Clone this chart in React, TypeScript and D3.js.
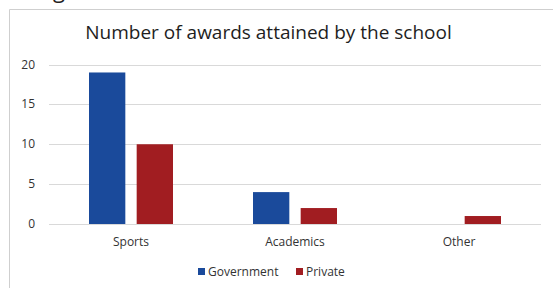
import React, { useEffect, useRef } from 'react'
import * as d3 from 'd3'

const categories = ['Sports', 'Academics', 'Other']
const seriesNames = ['Government', 'Private']
const government = [19, 4, 0]
const privateValues = [10, 2, 1]
const yTicks = [0, 5, 10, 15, 20]
const colors = ['#1a4a9b', '#a11d21']

const W = 553
const H = 288

export default function App() {
	const ref = useRef<SVGSVGElement>(null)

	useEffect(() => {
		const svg = d3.select(ref.current)
		svg.selectAll('*').remove()

		const margin = { left: 49, right: 12, top: 64.5, bottom: 64 }
		const plotBottom = 224

		// cut off caption text above the chart
		svg.append('text')
			.attr('x', 53)
			.attr('y', -2)
			.attr('font-family', 'Open Sans')
			.attr('font-size', 22)
			.attr('fill', '#222')
			.text('g')

		// frame of the chart area
		svg.append('path')
			.attr('d', `M9.5,${H} V9.5 H${W}`)
			.attr('fill', 'none')
			.attr('stroke', '#cfcfcf')
			.attr('stroke-width', 1)

		svg.append('text')
			.attr('x', 268.5)
			.attr('y', 39)
			.attr('text-anchor', 'middle')
			.attr('font-family', 'Open Sans')
			.attr('font-size', 19)
			.attr('fill', '#1e1e1e')
			.text('Number of awards attained by the school')

		const x = d3.scaleBand()
			.domain(categories)
			.range([margin.left, W - margin.right])

		const y = d3.scaleLinear()
			.domain([0, 20])
			.range([plotBottom, margin.top])

		const g = svg.append('g')

		g.selectAll('line.grid')
			.data(yTicks)
			.enter()
			.append('line')
			.attr('class', 'grid')
			.attr('x1', margin.left)
			.attr('x2', W - margin.right)
			.attr('y1', d => Math.round(y(d)) + 0.5)
			.attr('y2', d => Math.round(y(d)) + 0.5)
			.attr('stroke', '#d9d9d9')
			.attr('stroke-width', 1)

		g.selectAll('text.ytick')
			.data(yTicks)
			.enter()
			.append('text')
			.attr('class', 'ytick')
			.attr('x', 35)
			.attr('y', d => y(d) + 4)
			.attr('text-anchor', 'end')
			.attr('font-family', 'Open Sans')
			.attr('font-size', 12)
			.attr('fill', '#333')
			.text(d => d)

		const bw = x.bandwidth()
		const barW = 37
		const gap = 10
		const inner = d3.scaleBand()
			.domain(seriesNames)
			.range([bw / 2 - barW - gap / 2, bw / 2 + barW + gap / 2])
			.paddingInner(gap / (barW * 2 + gap) * 2)

		const series = [government, privateValues]
		series.forEach((vals, si) => {
			g.selectAll(`rect.s${si}`)
				.data(vals)
				.enter()
				.append('rect')
				.attr('class', `s${si}`)
				.attr('x', (d, i) => (x(categories[i]) as number) + (inner(seriesNames[si]) as number))
				.attr('width', inner.bandwidth())
				.attr('y', d => y(d))
				.attr('height', d => y(0) - y(d))
				.attr('fill', colors[si])
		})

		g.selectAll('text.cat')
			.data(categories)
			.enter()
			.append('text')
			.attr('class', 'cat')
			.attr('x', d => (x(d) as number) + bw / 2)
			.attr('y', 246)
			.attr('text-anchor', 'middle')
			.attr('font-family', 'Open Sans')
			.attr('font-size', 12)
			.attr('fill', '#333')
			.text(d => d)

		// legend
		const legendX = [198, 296]
		seriesNames.forEach((name, i) => {
			svg.append('rect')
				.attr('x', legendX[i])
				.attr('y', 268)
				.attr('width', 7)
				.attr('height', 7)
				.attr('fill', colors[i])
			svg.append('text')
				.attr('x', legendX[i] + 10)
				.attr('y', 276)
				.attr('font-family', 'Open Sans')
				.attr('font-size', 12)
				.attr('fill', '#333')
				.text(name)
		})
	}, [])

	return (
		<svg
			ref={ref}
			width={W}
			height={H}
			style={{ position: 'absolute', left: 0, top: 0, background: '#fff' }}
		/>
	)
}
